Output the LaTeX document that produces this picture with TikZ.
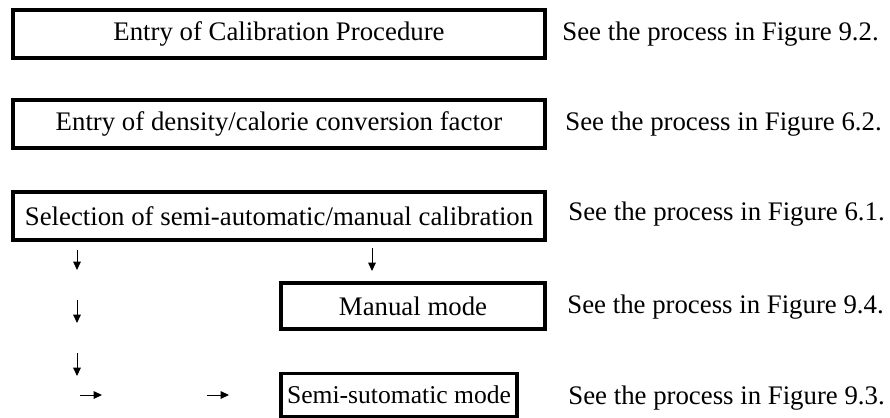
\documentclass[tikz,border=0pt]{standalone}
\usepackage{fontspec}
\setmainfont{Liberation Serif}
\usetikzlibrary{arrows.meta}
\begin{document}
\begin{tikzpicture}[x=0.5pt, y=-0.5pt,
        box/.style={draw, line width=1.8pt, inner sep=0pt,
            font=\fontsize{13.4}{16}\selectfont},
        note/.style={anchor=west, inner sep=0pt,
            font=\fontsize{13.4}{16}\selectfont},
        arr/.style={line width=0.5pt, -{Triangle[length=4.2pt, width=3.8pt]}}
    ]
    \useasboundingbox (0,0) rectangle (890,418);

    % Boxes
    \node[box, minimum width=266pt, minimum height=24pt] (entry) at (279,34) {Entry of Calibration Procedure};
    \node[box, minimum width=266pt, minimum height=24pt] (factor) at (279,124) {Entry of density/calorie conversion factor};
    \node[box, minimum width=266pt, minimum height=24pt] (select) at (279,216) {Selection of semi-automatic/manual calibration};
    \node[box, minimum width=132pt, minimum height=23pt] (manual) at (413,306) {Manual mode};
    \node[box, minimum width=118pt, minimum height=21.5pt,
        font=\fontsize{12.8}{15}\selectfont] (semi) at (399,395) {Semi-sutomatic mode};

    % References
    \node[note] (fig92) at (562,34) {See the process in Figure 9.2.};
    \node[note] (fig62) at (565,124) {See the process in Figure 6.2.};
    \node[note] (fig61) at (568,214) {See the process in Figure 6.1.};
    \node[note] (fig94) at (567,307) {See the process in Figure 9.4.};
    \node[note] (fig93) at (568,398) {See the process in Figure 9.3.};

    % Arrows
    \foreach \ya/\yb in {250/270, 300/323, 353/376} {
        \draw[arr] (77,\ya) -- (77,\yb);
    }
    \draw[arr] (372,248) -- (372,271);
    \foreach \xa/\xb in {80/102, 207/229} {
        \draw[arr] (\xa,395) -- (\xb,395);
    }

\end{tikzpicture}
\end{document}
